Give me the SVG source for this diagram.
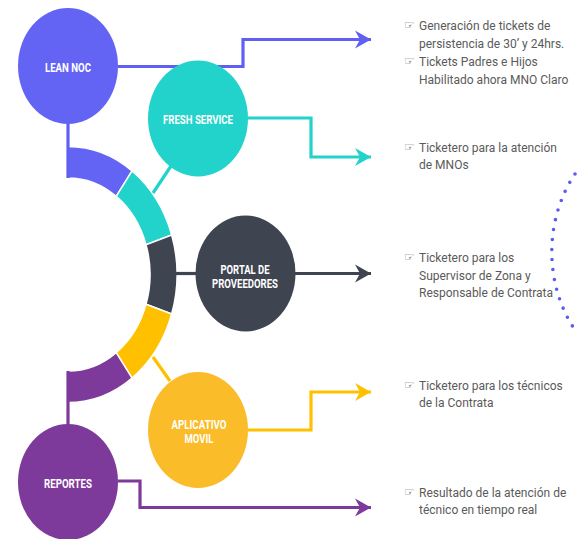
<svg xmlns="http://www.w3.org/2000/svg" width="577" height="539" viewBox="0 0 577 539">
<defs>
<style>
.lbl{font-family:Roboto,"Liberation Sans",sans-serif;font-weight:700;font-size:12.5px;fill:#fff;text-anchor:middle}
.txt{font-family:Roboto,"Liberation Sans",sans-serif;font-size:12px;fill:#5a5a5a}
.hand{font-family:"DejaVu Sans",sans-serif;font-size:12px;fill:#5a5a5a}
.seg{stroke:#fff;stroke-width:1.5}
.conn{fill:none;stroke-width:3.2;stroke-linejoin:miter}
</style>
<marker id="ah-blue" viewBox="-17 -10 18 20" refX="0" refY="0" markerWidth="18" markerHeight="20" markerUnits="userSpaceOnUse" orient="auto"><path d="M-16,-9 L0,0 L-16,9 L-11,0 Z" fill="#5f5ff4"/></marker>
<marker id="ah-teal" viewBox="-17 -10 18 20" refX="0" refY="0" markerWidth="18" markerHeight="20" markerUnits="userSpaceOnUse" orient="auto"><path d="M-16,-9 L0,0 L-16,9 L-11,0 Z" fill="#22d3cb"/></marker>
<marker id="ah-dark" viewBox="-17 -10 18 20" refX="0" refY="0" markerWidth="18" markerHeight="20" markerUnits="userSpaceOnUse" orient="auto"><path d="M-16,-9 L0,0 L-16,9 L-11,0 Z" fill="#3f4451"/></marker>
<marker id="ah-yellow" viewBox="-17 -10 18 20" refX="0" refY="0" markerWidth="18" markerHeight="20" markerUnits="userSpaceOnUse" orient="auto"><path d="M-16,-9 L0,0 L-16,9 L-11,0 Z" fill="#ffc000"/></marker>
<marker id="ah-purple" viewBox="-17 -10 18 20" refX="0" refY="0" markerWidth="18" markerHeight="20" markerUnits="userSpaceOnUse" orient="auto"><path d="M-16,-9 L0,0 L-16,9 L-11,0 Z" fill="#7d3a9b"/></marker>
</defs>
<rect width="577" height="539" fill="#fff"/>

<g id="ring">
<path class="seg" fill="#6464f4" d="M68,146.5 A109,128 0 0 1 132.07,170.95 L116.2,196.43 A82,96.5 0 0 0 68,178 Z"/>
<path class="seg" fill="#22d3cb" d="M132.07,170.95 A109,128 0 0 1 171.67,234.95 L145.99,244.68 A82,96.5 0 0 0 116.2,196.43 Z"/>
<path class="seg" fill="#3f4451" d="M171.67,234.95 A109,128 0 0 1 171.67,314.05 L145.99,304.32 A82,96.5 0 0 0 145.99,244.68 Z"/>
<path class="seg" fill="#ffc000" d="M171.67,314.05 A109,128 0 0 1 132.07,378.05 L116.2,352.57 A82,96.5 0 0 0 145.99,304.32 Z"/>
<path class="seg" fill="#7d3a9b" d="M132.07,378.05 A109,128 0 0 1 68,402.5 L68,371 A82,96.5 0 0 0 116.2,352.57 Z"/>
</g>

<g id="connectors">
<path class="conn" stroke="#5f5ff4" d="M68,124 V178"/>
<path class="conn" stroke="#5f5ff4" d="M118,66.5 H243 V39.5 H371" marker-end="url(#ah-blue)"/>
<path class="conn" stroke="#22d3cb" d="M171,166 L153,193"/>
<path class="conn" stroke="#22d3cb" d="M248,118 H311 V157 H371" marker-end="url(#ah-teal)"/>
<path class="conn" stroke="#3f4451" d="M171,273.5 H197"/>
<path class="conn" stroke="#3f4451" d="M295,273.5 H371" marker-end="url(#ah-dark)"/>
<path class="conn" stroke="#ffc000" d="M153,357 L170,381"/>
<path class="conn" stroke="#ffc000" d="M248,430 H311 V392 H371" marker-end="url(#ah-yellow)"/>
<path class="conn" stroke="#7d3a9b" d="M68,371 V426"/>
<path class="conn" stroke="#7d3a9b" d="M118,481 H140 V507.5 H371" marker-end="url(#ah-purple)"/>
</g>

<g id="lean-noc">
<ellipse cx="68" cy="66" rx="50" ry="58" fill="#6464f4"/>
<text class="lbl" x="68" y="71.5" textLength="46" lengthAdjust="spacingAndGlyphs">LEAN NOC</text>
</g>
<g id="fresh-service">
<ellipse cx="198" cy="118.5" rx="50" ry="58" fill="#22d3cb"/>
<text class="lbl" x="198" y="123.5" textLength="70" lengthAdjust="spacingAndGlyphs">FRESH SERVICE</text>
</g>
<g id="portal">
<ellipse cx="245.5" cy="273.5" rx="50" ry="58" fill="#3f4451"/>
<text class="lbl" x="245" y="273.5" textLength="49" lengthAdjust="spacingAndGlyphs">PORTAL DE</text>
<text class="lbl" x="245" y="287.5" textLength="66" lengthAdjust="spacingAndGlyphs">PROVEEDORES</text>
</g>
<g id="aplicativo">
<ellipse cx="198" cy="430" rx="50" ry="58" fill="#fbbc2a"/>
<text class="lbl" x="199" y="428.5" textLength="55" lengthAdjust="spacingAndGlyphs">APLICATIVO</text>
<text class="lbl" x="199" y="442.5" textLength="29" lengthAdjust="spacingAndGlyphs">MOVIL</text>
</g>
<g id="reportes">
<ellipse cx="68" cy="482" rx="50" ry="58" fill="#7d3a9b"/>
<text class="lbl" x="68" y="487.5" textLength="48" lengthAdjust="spacingAndGlyphs">REPORTES</text>
</g>

<g id="notes">
<text class="hand" x="404" y="29">☞</text>
<text class="txt" x="419" y="30">Generación de tickets de</text>
<text class="txt" x="419" y="48">persistencia de 30’ y 24hrs.</text>
<text class="hand" x="404" y="65">☞</text>
<text class="txt" x="419" y="66">Tickets Padres e Hijos</text>
<text class="txt" x="419" y="84">Habilitado ahora MNO Claro</text>
<text class="hand" x="404" y="151">☞</text>
<text class="txt" x="419" y="152">Ticketero para la atención</text>
<text class="txt" x="419" y="169">de MNOs</text>
<text class="hand" x="404" y="261">☞</text>
<text class="txt" x="419" y="262">Ticketero para los</text>
<text class="txt" x="419" y="280">Supervisor de Zona y</text>
<text class="txt" x="419" y="297">Responsable de Contrata</text>
<text class="hand" x="404" y="389">☞</text>
<text class="txt" x="419" y="390">Ticketero para los técnicos</text>
<text class="txt" x="419" y="407">de la Contrata</text>
<text class="hand" x="404" y="496">☞</text>
<text class="txt" x="419" y="497">Resultado de la atención de</text>
<text class="txt" x="419" y="514">técnico en tiempo real</text>
</g>

<path id="dotted-arc" d="M575,174 A108,126 0 0 0 575,330" fill="none" stroke="#5b5bf0" stroke-width="3.6" stroke-linecap="round" stroke-dasharray="0 10"/>
</svg>
